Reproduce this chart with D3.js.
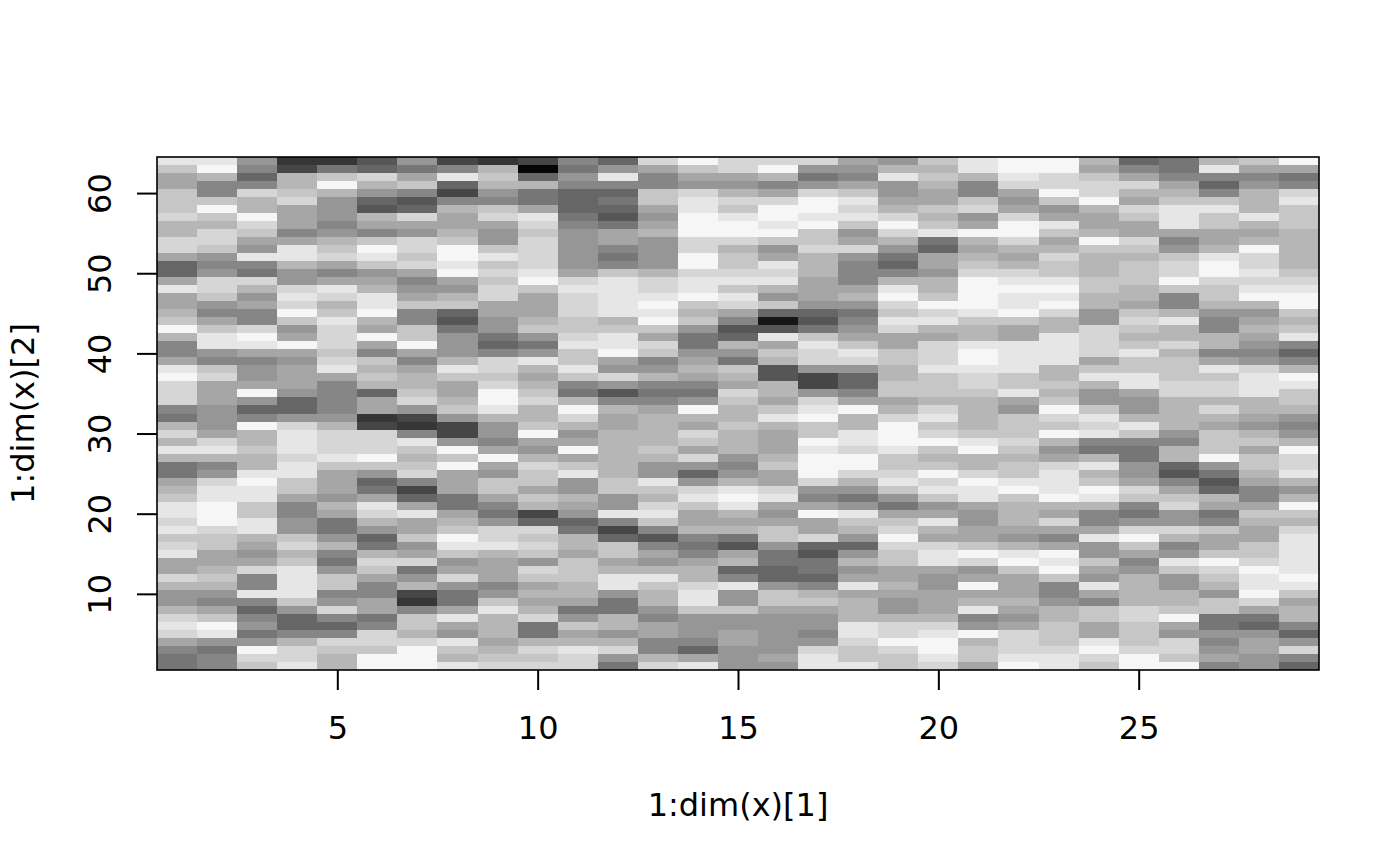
<!DOCTYPE html>
<html>
<head>
<meta charset="utf-8">
<script src="https://cdn.jsdelivr.net/npm/d3@7"></script>
<style>
html,body{margin:0;padding:0;background:#fff}
svg{display:block}
text{font-family:"DejaVu Sans",sans-serif;fill:#000}
</style>
</head>
<body>
<svg id="chart" width="1400" height="866"></svg>
<script>
// Grey level of every cell, one hex digit per cell (0 = darkest, f = lightest).
// One string per column (x = 1..29); characters run from y = 64 down to y = 1.
const column01 = "ecaacccdbbdda66aeaabcfb88aefddd87bdbeb77abceedecdeaadb99bdeda877";
const column02 = "efb88cfcbddc989ddc98acee98cdaaa999adeb89deefffdccaabcb98acfe9788";
const column03 = "9868dbbfdca9e87db9a88dfea899af968fbbcbbefeecceeba9ad88e868979fdc";
const column04 = "34bbcdaaa8aeeb99dedfc9afa9aaa9669deeedeecca8899cdbceeeec9668bdde";
const column05 = "37cfb99989bcda8aedbcedddcdea88889bdddecaaa9ba779b879cc89d868dcbb";
const column06 = "56db965ba8cfec9abeefbafa8cbcb6aa34dddfc967aedb967bdca88aa78ddcff";
const column07 = "97ac856da9ddcda89ac88ccfa8abbcd9438ecbcd846aeaac9ad79b438ccbdfff";
const column08 = "48e648baabcffefa9bc657999becaabc9449fcfaaa77abcfec9ad977aea9ecbe";
const column09 = "3bcb98cda99cecdcddaa99768ddcdffeb998afa9cca879ddebaaa89cebbbabcd";
const column10 = "406b77aedcddddefcaaabc979ebabcdbbcfa9bdccacb46dcdc9dcababd77bdcd";
const column11 = "87986667899999adedddccdeccec87bfdb9aface99ba967bbacccbba79cabedd";
const column12 = "69e867657aa878ceeeeebceefa9d958baabbbbbbcc99e846ccabee977bb9bd97";
const column13 = "da88cca9ab9999bddefefcadc89b878abbbbcb99ecbdec858a9becbb98aa88bd";
const column14 = "fca9deefffddffdeefcbc9779aba879fbadcad969decaab878abbdeec99986ae";
const column15 = "dda9bdceffdbccdeceda856b97cbadcbbcbbb989befebab75ab68e99c99aa999";
const column16 = "dfb8adffefc9aedeb9c615eacb55bbacebaaabcaadea9acc977669cca99999a9";
const column17 = "d979dffefccdbbbaaa9657cedd9449defccfefffd98afaad657768bca9989dee";
const column18 = "a98acedec9ad9888ab9789aced9668afbbeedffdb979ecb969b9aeabbbeedcce";
const column19 = "9be99abdfdb9768befdcedaaccbbccabdfffeccdec97acdfdccaaba99bddfdcc";
const column20 = "cbcbaacbce76aa9bbcfdebadddecccbdecdfcbcfdec9aebadeea99aaabdeffed";
const column21 = "eeb88cd9afbabcdffffecbbeffeddcbbbbcefbbdfeea99aacfd9afabe89fbcca";
const column22 = "ffeda9adffdbabdefeefcaaeeeeccea9cccdcbccefcbbba9befcaaaba9adddef";
const column23 = "ffddfc9aecabdccefefdbbeeeebbcbcfdcfb9adeeefbada8afefc889bbcccdee";
const column24 = "bacddfbaabfcbbbccbb99ddddaceb99cede87bebcfeb88ae99ca9ea8ccaaefdc";
const column25 = "68adbadcaadcbcccbbacdcbcecceea99bec87799adc879dfca89bbbbddcccdff";
const column26 = "778abceeea89cddfc88bebbdbcccddbbbb98bb658acd99db89ec99bbcfa9ddcf";
const column27 = "be868ceccaabeffdccb988bb8aecddbdbacccf9756ba78caacfdcb9cc77989a8";
const column28 = "ca89bbbebabfddedefb9aba989deeebba9bcaccba88acbaaccdfeefda769aa99";
const column29 = "fa78decccbbbbbcdeffcbce868bfeccb989bfddeb9bfcbdeeeeefecabb869d86";

const grayColumns = [
  column01, column02, column03, column04, column05, column06, column07, column08,
  column09, column10, column11, column12, column13, column14, column15, column16,
  column17, column18, column19, column20, column21, column22, column23, column24,
  column25, column26, column27, column28, column29
];

const xTicks = [5, 10, 15, 20, 25];
const yTicks = [10, 20, 30, 40, 50, 60];
const xTitle = "1:dim(x)[1]";
const yTitle = "1:dim(x)[2]";

const plotLeft = 157, plotRight = 1319, plotTop = 157, plotBottom = 670;

const x = d3.scaleLinear().domain([0.5, 29.5]).range([plotLeft, plotRight]);
const y = d3.scaleLinear().domain([0.5, 64.5]).range([plotBottom, plotTop]);
const gray = d3.scaleLinear().domain([0, 15]).range(["#060606", "#f6f6f6"]);

const cells = grayColumns.flatMap((col, i) =>
  Array.from(col).map((ch, j) => ({
    col: i + 1,
    row: 64 - j,
    value: parseInt(ch, 16)
  }))
);

const svg = d3.select("#chart");

svg.append("g")
  .attr("shape-rendering", "crispEdges")
  .selectAll("rect")
  .data(cells)
  .join("rect")
  .attr("x", d => x(d.col - 0.5))
  .attr("y", d => y(d.row + 0.5))
  .attr("width", d => x(d.col + 0.5) - x(d.col - 0.5))
  .attr("height", d => y(d.row - 0.5) - y(d.row + 0.5))
  .attr("fill", d => gray(d.value));

const fontSize = 32;

const xAxis = svg.append("g")
  .attr("transform", `translate(0,${plotBottom})`)
  .call(d3.axisBottom(x).tickValues(xTicks).tickSize(20).tickFormat(d3.format("d")));
const yAxis = svg.append("g")
  .attr("transform", `translate(${plotLeft},0)`)
  .call(d3.axisLeft(y).tickValues(yTicks).tickSize(20).tickFormat(d3.format("d")));

[xAxis, yAxis].forEach(a => {
  a.select(".domain").remove();
  a.selectAll(".tick line").attr("stroke", "#000").attr("stroke-width", 2);
  a.selectAll("text").attr("font-size", fontSize).attr("fill", "#000");
  a.attr("font-family", null).attr("font-size", null);
});

xAxis.selectAll(".tick text").attr("y", 69).attr("dy", null);

yAxis.selectAll(".tick text")
  .attr("text-anchor", "middle")
  .attr("dy", null)
  .attr("x", null)
  .attr("transform", "translate(-46,0) rotate(-90)");

svg.append("rect")
  .attr("x", plotLeft).attr("y", plotTop)
  .attr("width", plotRight - plotLeft).attr("height", plotBottom - plotTop)
  .attr("fill", "none").attr("stroke", "#000").attr("stroke-width", 1.6);

svg.append("text")
  .attr("x", (plotLeft + plotRight) / 2).attr("y", 816)
  .attr("text-anchor", "middle").attr("font-size", fontSize)
  .text(xTitle);

svg.append("text")
  .attr("transform", `translate(34,${(plotTop + plotBottom) / 2}) rotate(-90)`)
  .attr("text-anchor", "middle").attr("font-size", fontSize)
  .text(yTitle);
</script>
</body>
</html>
